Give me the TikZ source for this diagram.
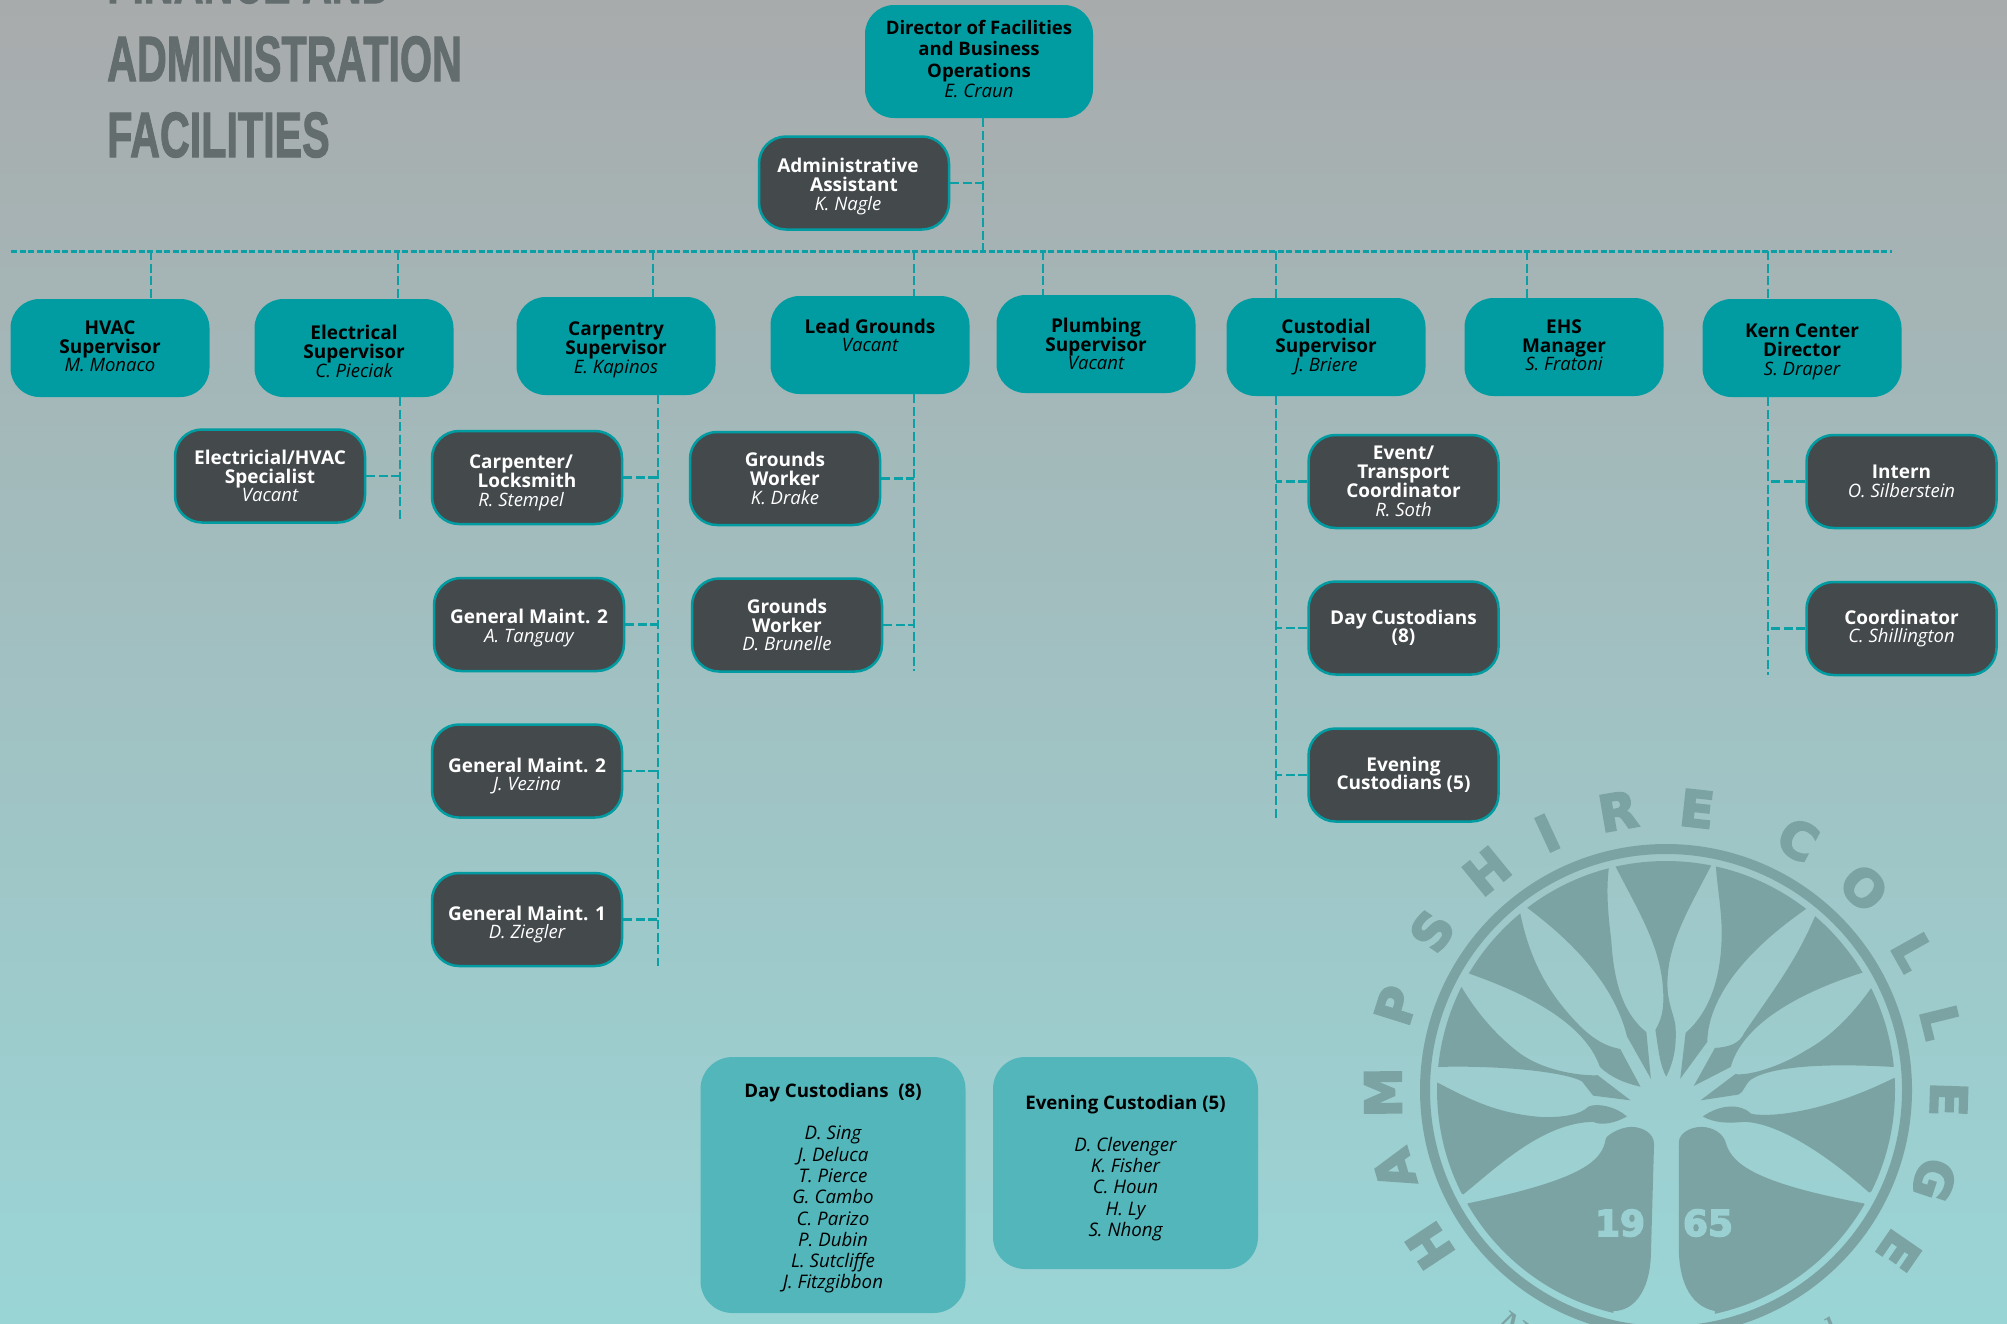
\documentclass[tikz,border=0pt]{standalone}
\usepackage{fontspec}
\setmainfont{Open Sans}
\newfontfamily\titlefont[BoldFeatures={FakeBold=2}]{Liberation Sans}
\newfontfamily\sealfont[BoldFeatures={FakeBold=4}]{DejaVu Sans}
\newfontfamily\mottofont{Liberation Serif}
\usetikzlibrary{calc}
\definecolor{teal1}{HTML}{009CA1}
\definecolor{wire1}{HTML}{0BA0A5}
\definecolor{slate1}{HTML}{44494C}
\definecolor{pale1}{HTML}{52B6BA}
\definecolor{seal1}{HTML}{7CA3A3}
\definecolor{heading1}{HTML}{646D6E}
\definecolor{yearink}{HTML}{9AD0D1}
\newcommand{\person}[1]{\\[-.5pt]{\fontseries{m}\itshape\fontsize{18.5}{19}\selectfont #1}}
\newcommand{\name}[1]{{\fontseries{m}\itshape #1}}
\newcommand{\titleline}[1]{\scalebox{.645}[1]{#1}}
\newcommand{\nudge}{\hspace*{12pt}}
\newcommand{\lift}{\rule[-4pt]{0pt}{0pt}}
\newcommand{\drop}{\rule{0pt}{21pt}}
\newcommand{\dropmore}{\rule{0pt}{24pt}}
\begin{document}
\begin{tikzpicture}[
        x=1pt, y=-1pt,
        lead/.style={fill=teal1, rounded corners=29pt, inner sep=0pt, align=center, text=black, font=\bfseries\fontsize{19}{19}\selectfont},
        staff/.style={draw=teal1, line width=2.5pt, fill=slate1, rounded corners=27pt, inner sep=0pt, minimum width=190pt, minimum height=93pt, align=center, text=white, font=\bfseries\fontsize{19}{19}\selectfont},
        crew/.style={fill=pale1, rounded corners=32pt, inner sep=0pt, minimum width=265pt, align=center, text=black, font=\bfseries\fontsize{18.7}{21.3}\selectfont},
        leadwide/.style={lead, minimum width=199pt, minimum height=98pt},
        link/.style={draw=wire1, line width=2.8pt, dash pattern=on 9pt off 3.5pt},
        buslink/.style={draw=wire1, line width=3pt, dash pattern=on 6pt off 2.5pt},
        heading/.style={anchor=base west, inner sep=0pt, text=heading1, font=\titlefont\bfseries\fontsize{64}{64}\selectfont},
        sealletter/.style={text=seal1, inner sep=0pt, font=\sealfont\bfseries\fontsize{50}{50}\selectfont},
        sealyear/.style={text=yearink, inner sep=0pt, font=\sealfont\bfseries\fontsize{36}{36}\selectfont},
        sealmotto/.style={text=seal1, inner sep=0pt, font=\mottofont\itshape\fontsize{44}{44}\selectfont}
    ]
    \clip (0,0) rectangle (2007,1323);
    % Background
    \shade[shading=axis, bottom color={rgb,255:red,154;green,213;blue,214}, middle color={rgb,255:red,157;green,192;blue,190}, top color={rgb,255:red,168;green,171;blue,172}] (0,0) rectangle (2007,1323);

    % Title
    \node[heading] (titleA) at (107,3) {\titleline{FINANCE AND}};
    \node[heading] (titleB) at (107,81) {\titleline{ADMINISTRATION}};
    \node[heading] (titleC) at (107,157) {\titleline{FACILITIES}};

    % Seal
    \coordinate (sealcentre) at (1666,1090);
    \draw[seal1, line width=10pt] (sealcentre) circle[radius=241pt];
    \begin{scope}
        \clip (sealcentre) circle[radius=229pt];
        \begin{scope}[shift={(1300,760)}, x=0.451pt, y=-0.359pt, fill=seal1]
            % wedges right of centre
            \fill (698,293) -- (805,180) -- (912,293) .. controls (860,420) and (810,520) .. (815,640) .. controls (818,690) and (833,720) .. (833,750) .. controls (835,810) and (825,850) .. (812,882) .. controls (798,850) and (795,810) .. (788,752) .. controls (800,725) and (808,700) .. (805,640) .. controls (800,520) and (750,420) .. (698,293) -- cycle;
            \fill (922,296) -- (1100,280) -- (1122,415) .. controls (990,530) and (905,660) .. (903,785) -- (843,888) -- (855,760) .. controls (910,700) and (935,600) .. (935,480) .. controls (935,420) and (925,350) .. (922,296) -- cycle;
            \fill (1142,435) -- (1330,420) -- (1248,592) .. controls (1100,650) and (980,740) .. (955,855) -- (873,908) -- (920,802) .. controls (950,800) and (975,790) .. (985,760) .. controls (1050,640) and (1100,560) .. (1142,435) -- cycle;
            \fill (1266,636) -- (1420,760) -- (1315,855) .. controls (1180,845) and (1050,850) .. (1000,890) .. controls (985,905) and (985,925) .. (972,932) -- (888,948) -- (965,875) .. controls (1000,880) and (1070,850) .. (1120,810) .. controls (1180,770) and (1230,700) .. (1266,636) -- cycle;
            \fill (1318,885) -- (1480,1050) -- (1262,1205) .. controls (1150,1080) and (1050,1010) .. (985,1008) .. controls (950,1012) and (920,1012) .. (893,993) .. controls (930,960) and (975,955) .. (1000,985) .. controls (1030,995) and (1150,990) .. (1318,885) -- cycle;
            \fill (1250,1235) -- (1400,1400) -- (920,1620) -- (920,1535) .. controls (860,1520) and (840,1440) .. (840,1360) -- (840,1065) .. controls (840,1040) and (865,1022) .. (890,1022) .. controls (915,1022) and (940,1040) .. (945,1070) .. controls (960,1130) and (1020,1180) .. (1250,1235) -- cycle;
            % wedges left of centre
            \fill (685,298) -- (560,270) -- (502,410) .. controls (620,520) and (700,640) .. (725,770) -- (778,888) -- (768,758) .. controls (710,700) and (695,600) .. (690,500) .. controls (680,400) and (680,350) .. (685,298) -- cycle;
            \fill (488,425) -- (330,440) -- (373,594) .. controls (500,650) and (630,730) .. (665,855) .. controls (690,885) and (720,900) .. (755,910) -- (710,805) .. controls (690,800) and (660,790) .. (620,740) .. controls (550,650) and (510,560) .. (488,425) -- cycle;
            \fill (357,630) -- (220,740) -- (305,855) .. controls (450,850) and (590,870) .. (625,895) -- (650,935) -- (733,948) -- (660,878) .. controls (630,880) and (540,870) .. (480,810) .. controls (430,760) and (390,700) .. (357,630) -- cycle;
            \fill (302,897) -- (140,1050) -- (362,1210) .. controls (440,1130) and (540,1010) .. (650,1008) .. controls (670,1020) and (700,1010) .. (725,993) .. controls (700,965) and (660,955) .. (640,965) .. controls (620,990) and (580,995) .. (540,995) .. controls (430,985) and (370,940) .. (302,897) -- cycle;
            \fill (372,1235) -- (280,1500) -- (695,1620) -- (695,1535) .. controls (740,1535) and (775,1480) .. (778,1380) -- (785,1070) .. controls (785,1040) and (760,1022) .. (735,1022) .. controls (710,1022) and (680,1045) .. (678,1055) .. controls (670,1120) and (620,1170) .. (372,1235) -- cycle;
        \end{scope}
    \end{scope}
    \node[sealletter, rotate=123.4] (sealH) at ([shift={(213.4:283pt)}]sealcentre) {H};
    \node[sealletter, rotate=106.3] (sealA) at ([shift={(196.3:283pt)}]sealcentre) {A};
    \node[sealletter, rotate=90.5] (sealM) at ([shift={(180.5:283pt)}]sealcentre) {M};
    \node[sealletter, rotate=72.6] (sealP) at ([shift={(162.6:283pt)}]sealcentre) {P};
    \node[sealletter, rotate=55.8] (sealS) at ([shift={(145.8:283pt)}]sealcentre) {S};
    \node[sealletter, rotate=39.3] (sealHb) at ([shift={(129.3:283pt)}]sealcentre) {H};
    \node[sealletter, rotate=24.8] (sealI) at ([shift={(114.8:283pt)}]sealcentre) {I};
    \node[sealletter, rotate=9.8] (sealR) at ([shift={(99.8:283pt)}]sealcentre) {R};
    \node[sealletter, rotate=-6.3] (sealE) at ([shift={(83.7:283pt)}]sealcentre) {E};
    \node[sealletter, rotate=-27.8] (sealC) at ([shift={(62.2:283pt)}]sealcentre) {C};
    \node[sealletter, rotate=-44.4] (sealO) at ([shift={(45.6:283pt)}]sealcentre) {O};
    \node[sealletter, rotate=-60.8] (sealL) at ([shift={(29.2:283pt)}]sealcentre) {L};
    \node[sealletter, rotate=-76.1] (sealLb) at ([shift={(13.9:283pt)}]sealcentre) {L};
    \node[sealletter, rotate=-91.9] (sealEb) at ([shift={(-1.9:283pt)}]sealcentre) {E};
    \node[sealletter, rotate=-108.5] (sealG) at ([shift={(-18.5:283pt)}]sealcentre) {G};
    \node[sealletter, rotate=-124.6] (sealEc) at ([shift={(-34.6:283pt)}]sealcentre) {E};
    \node[sealyear] (yearA) at (1620,1223) {19};
    \node[sealyear] (yearB) at (1708,1223) {65};
    \node[sealmotto, rotate=-35] (mottoA) at (1510,1328) {N};
    \node[sealmotto, rotate=32] (mottoB) at (1834,1332) {l};

    % Director and assistant
    \node[lead, minimum width=228pt, minimum height=113pt, font=\bfseries\fontsize{18.6}{21.4}\selectfont] (director) at (979,61.5) {Director of Facilities\\and Business\\Operations\\[-.5pt]\name{E. Craun\rule[-5pt]{0pt}{0pt}}};
    \node[staff] (assistant) at (854,183) {\drop Administrative\nudge\\Assistant\nudge\person{K. Nagle\nudge}};

    % Supervisors
    \node[leadwide] (hvac) at (110,348) {HVAC\\Supervisor\person{M. Monaco\lift}};
    \node[leadwide] (electrical) at (354,348) {\drop Electrical\\Supervisor\person{C. Pieciak}};
    \node[leadwide] (carpentry) at (616,346) {\drop Carpentry\\Supervisor\person{E. Kapinos}};
    \node[leadwide] (grounds) at (870,345) {Lead Grounds\person{Vacant}\\~};
    \node[leadwide] (plumbing) at (1096,344) {Plumbing\\Supervisor\person{Vacant}};
    \node[leadwide] (custodial) at (1326,347) {Custodial\\Supervisor\person{J. Briere}};
    \node[leadwide] (ehs) at (1564,347) {EHS\\Manager\person{S. Fratoni\lift}};
    \node[leadwide] (kern) at (1802,348) {\drop Kern Center\\Director\person{S. Draper}};

    % Staff
    \node[staff] (specialist) at (270,476) {Electricial/HVAC\\Specialist\person{Vacant}};
    \node[staff] (locksmith) at (527,477.5) {\dropmore Carpenter/\nudge\\Locksmith\nudge\person{R. Stempel\nudge}};
    \node[staff] (maintA) at (529,624.5) {\drop General Maint. 2\person{A. Tanguay}};
    \node[staff] (maintB) at (527,771) {\dropmore General Maint. 2\person{J. Vezina}};
    \node[staff] (maintC) at (527,919.5) {\dropmore General Maint. 1\person{D. Ziegler}};
    \node[staff] (workerA) at (785,478.5) {Grounds\\Worker\person{K. Drake}};
    \node[staff] (workerB) at (787,625) {Grounds\\Worker\person{D. Brunelle}};
    \node[staff] (transport) at (1403.5,481.5) {Event/\\Transport\\Coordinator\person{R. Soth}};
    \node[staff] (daycrew) at (1403.5,628) {Day Custodians\\[-1pt](8)};
    \node[staff] (evecrew) at (1403.5,775) {Evening\\[-1pt]Custodians (5)};
    \node[staff] (intern) at (1901.5,481.5) {Intern\person{O. Silberstein}};
    \node[staff] (coordinator) at (1901.5,628.5) {Coordinator\person{C. Shillington}};

    % Custodian lists
    \node[crew, minimum height=256pt] (daylist) at (833,1185) {\drop Day Custodians~ (8)\\[21pt]\name{D. Sing}\\\name{J. Deluca}\\\name{T. Pierce}\\\name{G. Cambo}\\\name{C. Parizo}\\\name{P. Dubin}\\\name{L. Sutcliffe}\\\name{J. Fitzgibbon}};
    \node[crew, minimum height=212pt] (evelist) at (1125.5,1163) {\dropmore Evening Custodian (5)\\[21pt]\name{D. Clevenger}\\\name{K. Fisher}\\\name{C. Houn}\\\name{H. Ly}\\\name{S. Nhong}};

    % Free ends of the connectors
    \coordinate (busW) at (11,251);
    \coordinate (busE) at (1892,251);
    \coordinate (tapDir) at (983,251);
    \coordinate (tapHvac) at (151,251);
    \coordinate (tapElec) at (398,251);
    \coordinate (tapCarp) at (653,251);
    \coordinate (tapGrnd) at (914,251);
    \coordinate (tapPlum) at (1043,251);
    \coordinate (tapCust) at (1276,251);
    \coordinate (tapEhs) at (1527,251);
    \coordinate (tapKern) at (1768,251);
    \coordinate (endElec) at (400,522);
    \coordinate (endCarp) at (658,966);
    \coordinate (endGrnd) at (914,671);
    \coordinate (endCust) at (1276,818);
    \coordinate (endKern) at (1768,675);

    % Connections
    \draw[buslink] (busW) -- (busE);
    \draw[link] (director.south -| tapDir) -- (tapDir);
    \draw[link] (assistant.east) -- (assistant.east -| tapDir);
    \draw[link] (tapHvac) -- (tapHvac |- hvac.north);
    \draw[link] (tapElec) -- (tapElec |- electrical.north);
    \draw[link] (tapCarp) -- (tapCarp |- carpentry.north);
    \draw[link] (tapGrnd) -- (tapGrnd |- grounds.north);
    \draw[link] (tapPlum) -- (tapPlum |- plumbing.north);
    \draw[link] (tapCust) -- (tapCust |- custodial.north);
    \draw[link] (tapEhs) -- (tapEhs |- ehs.north);
    \draw[link] (tapKern) -- (tapKern |- kern.north);

    \draw[link] (endElec |- electrical.south) -- (endElec);
    \draw[link] (endCarp |- carpentry.south) -- (endCarp);
    \draw[link] (endGrnd |- grounds.south) -- (endGrnd);
    \draw[link] (endCust |- custodial.south) -- (endCust);
    \draw[link] (endKern |- kern.south) -- (endKern);

    \draw[link] (specialist.east) -- (specialist.east -| endElec);
    \draw[link] (locksmith.east) -- (locksmith.east -| endCarp);
    \draw[link] (maintA.east) -- (maintA.east -| endCarp);
    \draw[link] (maintB.east) -- (maintB.east -| endCarp);
    \draw[link] (maintC.east) -- (maintC.east -| endCarp);
    \draw[link] (workerA.east) -- (workerA.east -| endGrnd);
    \draw[link] (workerB.east) -- (workerB.east -| endGrnd);
    \draw[link] (transport.west) -- (transport.west -| endCust);
    \draw[link] (daycrew.west) -- (daycrew.west -| endCust);
    \draw[link] (evecrew.west) -- (evecrew.west -| endCust);
    \draw[link] (intern.west) -- (intern.west -| endKern);
    \draw[link] (coordinator.west) -- (coordinator.west -| endKern);
\end{tikzpicture}
\end{document}
